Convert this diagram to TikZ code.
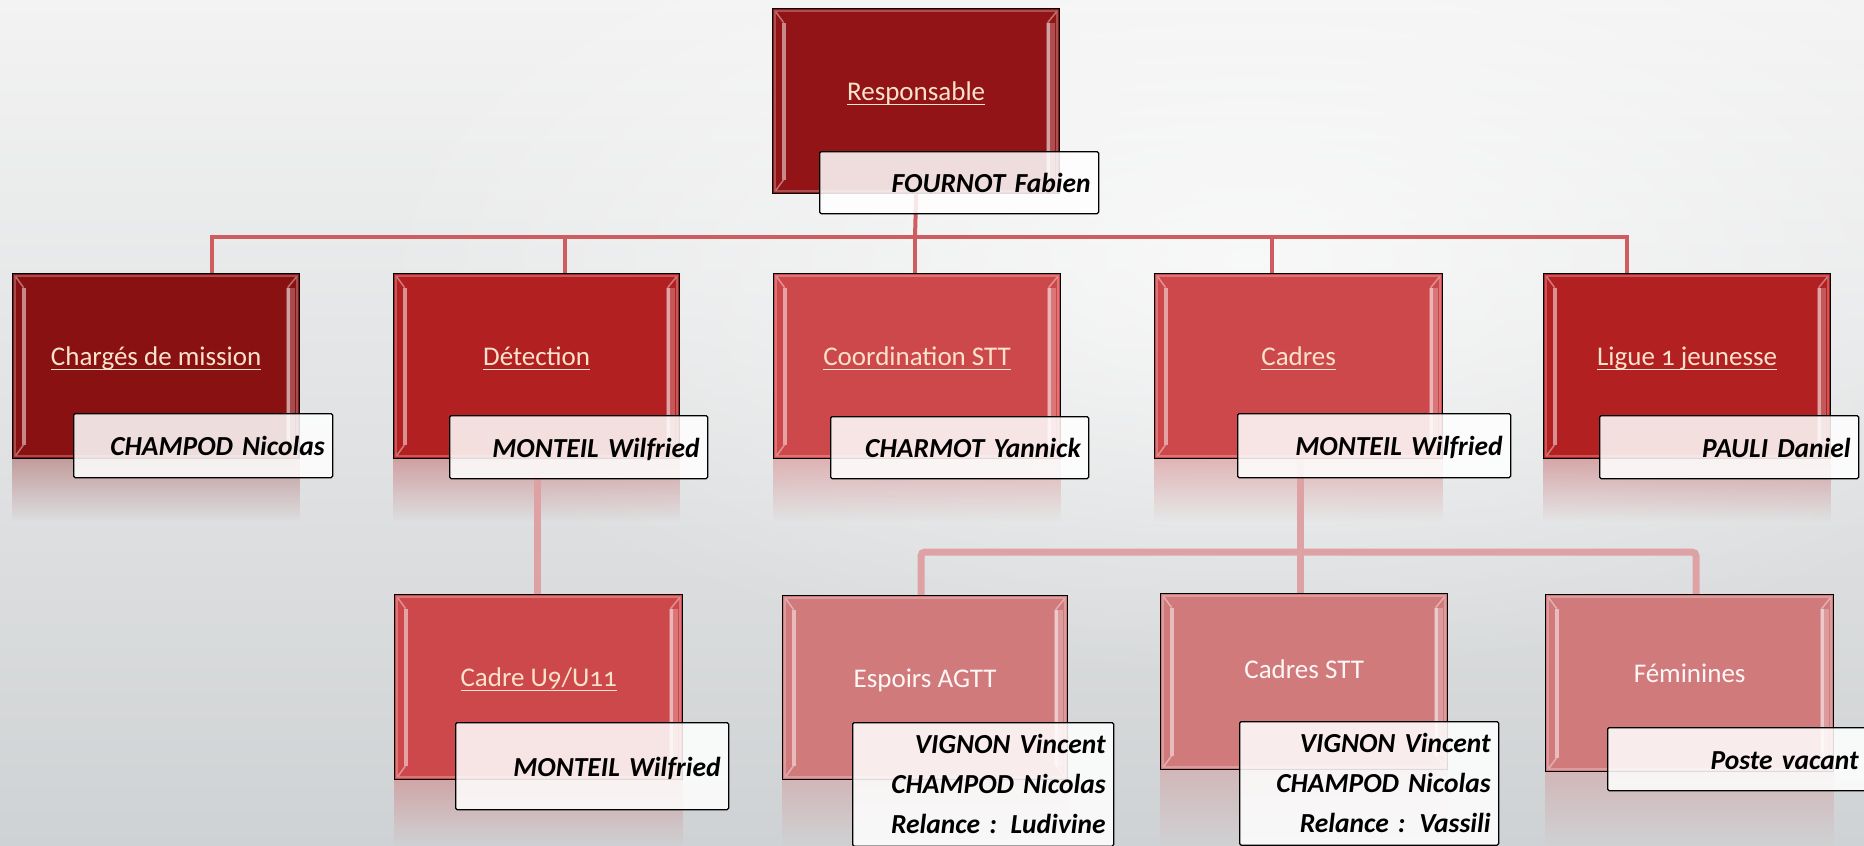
\documentclass[tikz,border=0pt]{standalone}
\usepackage{fontspec}
\setmainfont{Carlito}[Numbers=OldStyle]
\newfontfamily\namefont{Carlito}
\usetikzlibrary{calc,fadings}
\pgfdeclarelayer{bg}
\pgfsetlayers{bg,main}
\definecolor{cResp}{RGB}{146,20,22}
\definecolor{cCharg}{RGB}{137,17,17}
\definecolor{cDet}{RGB}{178,32,34}
\definecolor{cMid}{RGB}{205,72,74}
\definecolor{cLight}{RGB}{208,122,124}
\definecolor{titlec}{RGB}{250,226,204}
\definecolor{titlew}{RGB}{255,246,246}
\definecolor{c1}{RGB}{206,92,96}
\definecolor{c2}{RGB}{222,162,165}
\definecolor{bgtop}{RGB}{243,243,243}
\definecolor{bgbot}{RGB}{207,210,212}
\tikzfading[name=glow, inner color=transparent!0, outer color=transparent!100]
\newcommand{\undl}[1]{\setbox0\hbox{#1}\rlap{\rule[-4.5pt]{\wd0}{1.6pt}}\box0}
\newcommand{\namefnt}{\namefont\bfseries\itshape\fontsize{27.5}{40}\selectfont\spaceskip=0.19em plus 0.05em\relax}
\newcommand{\mkrefl}[3]{\fill[#2, path fading=south, fill opacity=0.33] (#1.south west) rectangle ($(#1.south east)+(0pt,-#3pt)$);}
\tikzset{
  obox/.style={anchor=north west, draw=black, line width=1.3pt, fill=#1, inner sep=0pt,
    minimum width=287pt, text height=92pt, text depth=93pt,
    font=\fontsize{27}{32}\selectfont, text=titlec,
    path picture={
      \path (path picture bounding box.north west) coordinate (bnw)
            (path picture bounding box.south east) coordinate (bse);
      \draw[#1!75!white, line width=2pt] ($(bnw)+(2.5pt,-2.5pt)$) rectangle ($(bse)+(-2.5pt,2.5pt)$);
      \draw[#1!50!white, line width=4pt] ($(bnw)+(11pt,-14pt)$) -- ($(bnw|-bse)+(11pt,14pt)$);
      \draw[#1!60!white, line width=1.5pt] ($(bnw)+(3pt,-3pt)$) -- ($(bnw)+(11pt,-14pt)$)
            ($(bnw|-bse)+(3pt,3pt)$) -- ($(bnw|-bse)+(11pt,14pt)$);
      \draw[#1!75!white, line width=9pt] ($(bse|-bnw)+(-9pt,-14pt)$) -- ($(bse)+(-9pt,14pt)$);
      \draw[#1!40!white, line width=3pt] ($(bse|-bnw)+(-11pt,-14pt)$) -- ($(bse)+(-11pt,14pt)$);
      \draw[#1!60!white, line width=1.5pt] ($(bse|-bnw)+(-3pt,-3pt)$) -- ($(bse|-bnw)+(-12pt,-14pt)$)
            ($(bse)+(-3pt,3pt)$) -- ($(bse)+(-12pt,14pt)$);
    }},
  nbox/.style={anchor=north west, draw=black, line width=1.3pt, rounded corners=1.5pt,
    fill=white, fill opacity=0.86, text opacity=1, draw opacity=1, text=black,
    align=right, font=\namefnt,
    inner xsep=8pt, inner ysep=0pt},
  one/.style={text height=22pt, text depth=2pt},
  conn1/.style={draw=c1, line width=4pt},
  conn2/.style={draw=c2, line width=7pt, rounded corners=4pt},
}
\begin{document}
\begin{tikzpicture}[x=1pt,y=-1pt]
\useasboundingbox (0,0) rectangle (1864,846);
\clip (0,0) rectangle (1864,846);
\begin{pgfonlayer}{bg}
  \shade[top color=bgtop, bottom color=bgbot] (0,0) rectangle (1864,846);
  \fill[white, path fading=glow, fill opacity=0.7] (1250,260) ellipse [x radius=900, y radius=420];
\end{pgfonlayer}

% main boxes
\node[obox=cResp]  (resp)   at (772,8)    {\undl{Responsable}};
\node[obox=cCharg] (charg)  at (12,273)   {\undl{Chargés de mission}};
\node[obox=cDet, minimum width=286pt]   (detec)  at (393,273)  {\undl{Détection}};
\node[obox=cMid]   (coord)  at (773,273)  {\undl{Coordination STT}};
\node[obox=cMid, minimum width=288pt]   (cadres) at (1154,273) {\undl{Cadres}};
\node[obox=cDet]   (ligue)  at (1543,273) {\undl{Ligue 1 jeunesse}};
\node[obox=cMid, minimum width=288pt]   (cu9)    at (394,594)  {\undl{Cadre U9/U11}};
\node[obox=cLight, minimum width=285pt, text=titlew, text height=92pt, text depth=92pt] (esp) at (782,595) {Espoirs AGTT};
\node[obox=cLight, text=titlew, text height=85pt, text depth=91pt] (cstt) at (1160,593) {Cadres STT};
\node[obox=cLight, minimum width=288pt, text=titlew, text height=88pt, text depth=89pt] (fem) at (1545,594) {Féminines};

% name boxes
\node[nbox, one, text width=263pt, minimum height=62pt] (nresp)   at (819,151)  {FOURNOT Fabien};
\node[nbox, one, text width=243pt, minimum height=64pt] (ncharg)  at (73,413)   {CHAMPOD Nicolas};
\node[nbox, one, text width=242pt, minimum height=63pt] (ndetec)  at (449,415)  {MONTEIL Wilfried};
\node[nbox, one, text width=242pt, minimum height=62pt] (ncoord)  at (830,416)  {CHARMOT Yannick};
\node[nbox, one, text width=257pt, minimum height=64pt] (ncadres) at (1237,413) {MONTEIL Wilfried};
\node[nbox, one, text width=243pt, minimum height=63pt] (nligue)  at (1599,415) {PAULI Daniel};
\node[nbox, one, text width=257pt, minimum height=87pt] (ncu9)    at (455,722)  {MONTEIL Wilfried};
\node[nbox, text width=245pt, inner ysep=12pt] (nesp)  at (852,722)  {VIGNON Vincent\\CHAMPOD Nicolas\\Relance : Ludivine};
\node[nbox, text width=243pt, inner ysep=12pt] (ncstt) at (1239,721) {VIGNON Vincent\\CHAMPOD Nicolas\\Relance : Vassili};
\node[nbox, one, text width=243pt, minimum height=63pt] (nfem)    at (1607,727) {Poste vacant};

\begin{pgfonlayer}{bg}
  \mkrefl{charg}{cCharg}{62}
  \mkrefl{detec}{cDet}{62}
  \mkrefl{coord}{cMid}{62}
  \mkrefl{cadres}{cMid}{62}
  \mkrefl{ligue}{cDet}{62}
  \mkrefl{cu9}{cMid}{67}
  \mkrefl{esp}{cLight}{67}
  \mkrefl{cstt}{cLight}{77}
  \mkrefl{fem}{cLight}{75}
  \coordinate (bus) at (915,237);
  \coordinate (bus2) at (1300,552);
  \draw[conn1] (resp.south) -- (bus);
  \draw[conn1] ($(charg.north west)+(200pt,0pt)$) |- (bus) -| ($(ligue.north west)+(84pt,0pt)$);
  \draw[conn1] ($(detec.north west)+(172pt,0pt)$) |- (bus);
  \draw[conn1] ($(coord.north west)+(142pt,0pt)$) |- (bus);
  \draw[conn1] ($(cadres.north west)+(118pt,0pt)$) |- (bus);
  \draw[conn2] ($(detec.south west)+(144pt,0pt)$) -- ($(cu9.north west)+(143pt,0pt)$);
  \draw[conn2] ($(cadres.south west)+(146pt,0pt)$) -- ($(cstt.north west)+(140pt,0pt)$);
  \draw[conn2] ($(esp.north west)+(139pt,0pt)$) |- (bus2) -| ($(fem.north west)+(151pt,0pt)$);
\end{pgfonlayer}
\end{tikzpicture}
\end{document}
